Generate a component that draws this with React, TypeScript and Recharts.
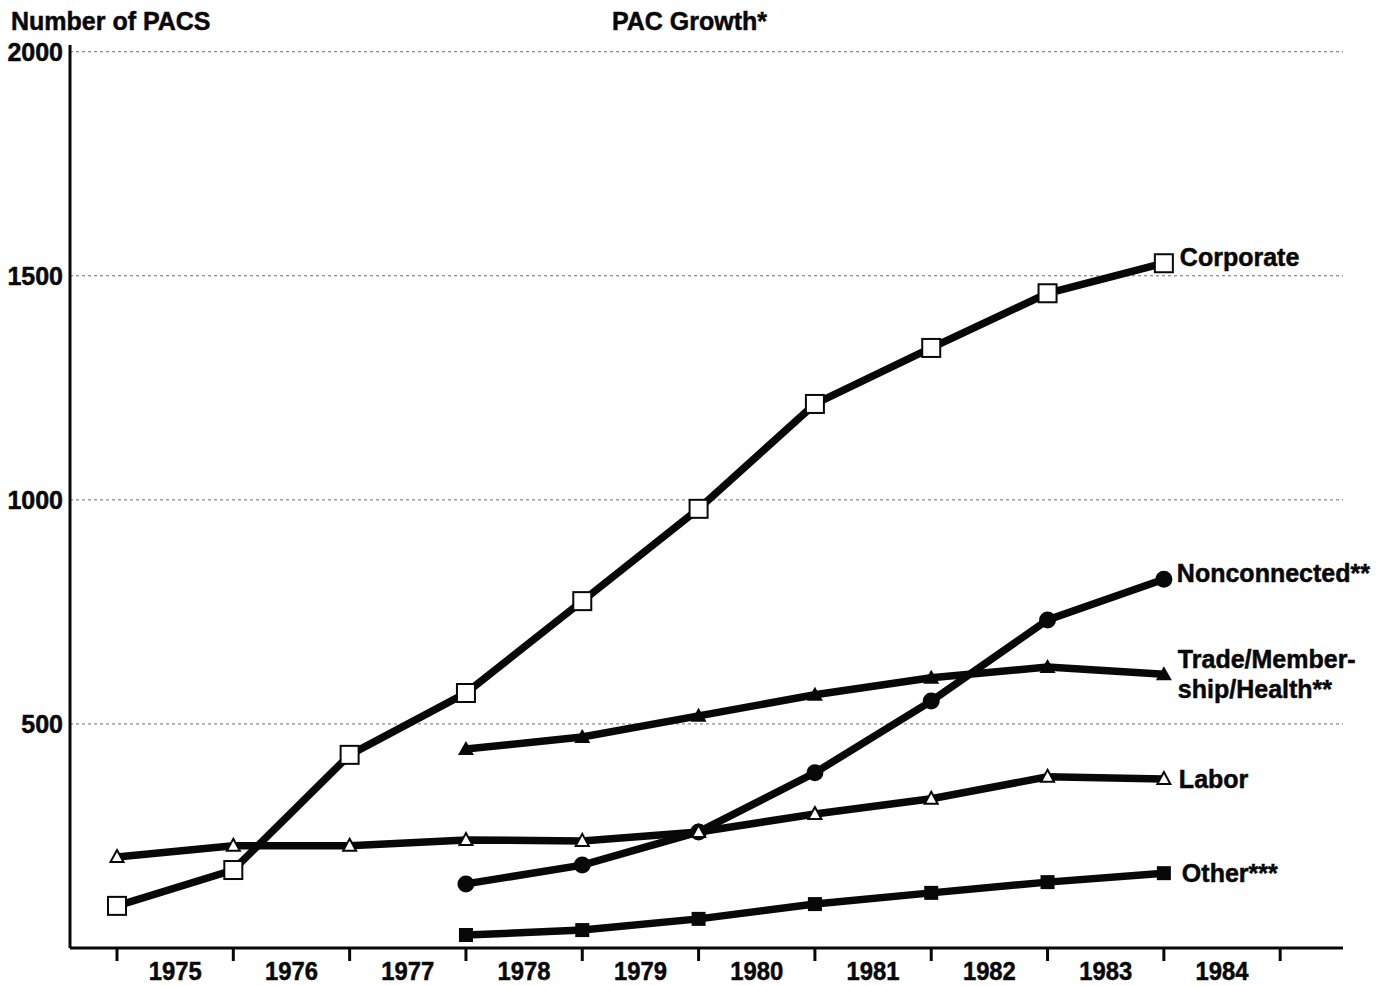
import React from 'react';
import { LineChart, Line, XAxis, YAxis, ReferenceLine, LabelList } from 'recharts';

// counts, one value per year-end
const corporateYears = [1974, 1975, 1976, 1977, 1978, 1979, 1980, 1981, 1982, 1983];
const corporate = [94, 174, 431, 569, 774, 980, 1214, 1339, 1461, 1528];
const labor = [203, 228, 228, 241, 239, 259, 299, 333, 382, 377];

const laterYears = [1977, 1978, 1979, 1980, 1981, 1982, 1983];
const nonconnected = [143, 185, 259, 391, 551, 732, 823];
const trade = [444, 471, 518, 565, 603, 627, 611];
const other = [29, 40, 65, 98, 123, 147, 167];

const yearLabels = [1975, 1976, 1977, 1978, 1979, 1980, 1981, 1982, 1983, 1984];
const yTicks = [500, 1000, 1500, 2000];

const INK = '#080808';
const FONT = '"Liberation Sans", Arial, Helvetica, sans-serif';

// a point recorded at the end of year Y sits on the boundary tick Y+1
const toPoints = (years: number[], values: number[]) =>
  years.map((yr, i) => ({ x: yr + 1, v: values[i] }));

// boundary ticks on whole numbers, year labels in the middle of each band
const xTicks: number[] = [];
yearLabels.forEach((yr) => {
  xTicks.push(yr, yr + 0.5);
});
xTicks.push(1985);

const XTick = (props: any) => {
  const { x, y, payload } = props;
  const v = payload.value;
  if (Number.isInteger(v)) {
    return <line x1={x} x2={x} y1={y} y2={y + 13} stroke={INK} strokeWidth={3} />;
  }
  return (
    <text
      x={x}
      y={y + 32}
      textAnchor="middle"
      fontFamily={FONT}
      fontWeight={700}
      fontSize={26}
      textLength={53}
      lengthAdjust="spacingAndGlyphs"
      fill={INK}
      stroke={INK}
      strokeWidth={0.5}
    >
      {Math.floor(v)}
    </text>
  );
};

const YTick = (props: any) => {
  const { x, y, payload } = props;
  return (
    <text x={x} y={y + 9} textAnchor="end" fontFamily={FONT} fontWeight={700} fontSize={25} fill={INK} stroke={INK} strokeWidth={0.5}>
      {payload.value}
    </text>
  );
};

const OpenSquare = (p: any) => (
  <rect key={p.index} x={p.cx - 9} y={p.cy - 9} width={18} height={18} fill="#fff" stroke={INK} strokeWidth={2} />
);
const FilledSquare = (p: any) => (
  <rect key={p.index} x={p.cx - 7} y={p.cy - 7} width={14} height={14} fill={INK} />
);
const FilledCircle = (p: any) => <circle key={p.index} cx={p.cx} cy={p.cy} r={8.5} fill={INK} />;
const FilledTriangle = (p: any) => (
  <path key={p.index} d={`M${p.cx},${p.cy - 8} L${p.cx + 8},${p.cy + 6} L${p.cx - 8},${p.cy + 6} Z`} fill={INK} />
);
const OpenTriangle = (p: any) => (
  <path
    key={p.index}
    d={`M${p.cx},${p.cy - 7} L${p.cx + 6.5},${p.cy + 5} L${p.cx - 6.5},${p.cy + 5} Z`}
    fill="#fff"
    stroke={INK}
    strokeWidth={2}
  />
);

const endLabel = (lines: string[], last: number, dx: number, dy: number) => (props: any) => {
  if (props.index !== last) return null;
  return (
    <text x={props.x + dx} y={props.y + dy} fontFamily={FONT} fontWeight={700} fontSize={25} fill={INK} stroke={INK} strokeWidth={0.5}>
      {lines.map((t, i) => (
        <tspan key={t} x={props.x + dx} dy={i === 0 ? 0 : 30}>
          {t}
        </tspan>
      ))}
    </text>
  );
};

const headStyle: React.CSSProperties = {
  position: 'absolute',
  top: 7,
  fontSize: 25,
  fontWeight: 700,
  color: INK,
  WebkitTextStroke: '0.5px #080808',
};

const App: React.FC = () => {
  const lastA = corporateYears.length - 1;
  const lastB = laterYears.length - 1;
  return (
    <div style={{ position: 'absolute', left: 0, top: 0, width: 1383, height: 986, background: '#fff', fontFamily: FONT }}>
      <div style={{ ...headStyle, left: 11 }}>Number of PACS</div>
      <div style={{ ...headStyle, left: 612 }}>PAC Growth*</div>
      <LineChart width={1383} height={986} margin={{ top: 45, right: 40, bottom: 0, left: 0 }}>
        <XAxis
          type="number"
          dataKey="x"
          domain={[1974.596, 1985.54]}
          ticks={xTicks}
          interval={0}
          height={38}
          tickSize={0}
          tickMargin={0}
          tickLine={false}
          axisLine={{ stroke: INK, strokeWidth: 3 }}
          tick={<XTick />}
          allowDataOverflow
        />
        <YAxis
          type="number"
          domain={[0, 2015]}
          ticks={yTicks}
          width={70}
          tickSize={0}
          tickMargin={7}
          tickLine={false}
          axisLine={{ stroke: INK, strokeWidth: 3 }}
          tick={<YTick />}
        />
        {yTicks.map((t) => (
          <ReferenceLine key={t} y={t} stroke="#6a6a6a" strokeDasharray="3 3" strokeWidth={1} />
        ))}
        <Line data={toPoints(laterYears, other)} dataKey="v" stroke={INK} strokeWidth={7.5} dot={FilledSquare} isAnimationActive={false}>
          <LabelList dataKey="v" content={endLabel(['Other***'], lastB, 18, 9)} />
        </Line>
        <Line data={toPoints(laterYears, nonconnected)} dataKey="v" stroke={INK} strokeWidth={7.5} dot={FilledCircle} isAnimationActive={false}>
          <LabelList dataKey="v" content={endLabel(['Nonconnected**'], lastB, 13, 3)} />
        </Line>
        <Line data={toPoints(laterYears, trade)} dataKey="v" stroke={INK} strokeWidth={7.5} dot={FilledTriangle} isAnimationActive={false}>
          <LabelList dataKey="v" content={endLabel(['Trade/Member-', 'ship/Health**'], lastB, 14, -6)} />
        </Line>
        <Line data={toPoints(corporateYears, labor)} dataKey="v" stroke={INK} strokeWidth={7.5} dot={OpenTriangle} isAnimationActive={false}>
          <LabelList dataKey="v" content={endLabel(['Labor'], lastA, 15, 9)} />
        </Line>
        <Line data={toPoints(corporateYears, corporate)} dataKey="v" stroke={INK} strokeWidth={7.5} dot={OpenSquare} isAnimationActive={false}>
          <LabelList dataKey="v" content={endLabel(['Corporate'], lastA, 16, 3)} />
        </Line>
      </LineChart>
    </div>
  );
};

export default App;
